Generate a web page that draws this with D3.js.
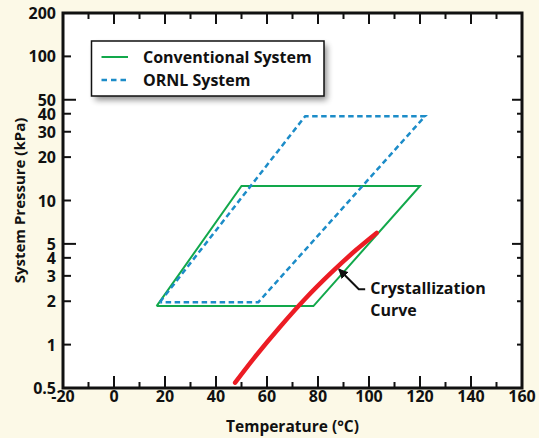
<!DOCTYPE html>
<html><head><meta charset="utf-8">
<script src="https://cdn.jsdelivr.net/npm/d3@7"></script>
<style>
body{margin:0;background:#fcf9e7;}
svg{display:block;}
text{font-family:"Open Sans",sans-serif;font-weight:700;fill:#111;}
</style></head>
<body>
<svg id="c" width="539" height="438"></svg>
<script>
// Data
const xTicks = [-20,0,20,40,60,80,100,120,140,160];
const xMinor = [-10,10,30,50,70,90,110,130,150];
const yTickLabels = [200,100,50,40,30,20,10,5,4,3,2,1,0.5];
const yLongTicks = [50,5];
const convTemp = [16.7,50,120,78.2,16.7];
const convPress = [1.85,12.6,12.6,1.85,1.85];
const ornlTemp = [18,75,122,56.6,18];
const ornlPress = [1.97,38.5,38.5,1.97,1.97];
const crystTemp = [47.5,55,65,75,85,95,103];
const crystPress = [0.545,0.81,1.32,2.08,3.13,4.55,5.96];

const svg = d3.select("#c");
const L=63,R=522,T=13,B=388;
const x = d3.scaleLinear().domain([-20,160]).range([L,R]);
const y = d3.scaleLog().domain([0.5,200]).range([B,T]);

svg.append("rect").attr("x",L).attr("y",T).attr("width",R-L).attr("height",B-T).attr("fill","#fff");

const defs = svg.append("defs");
const f = defs.append("filter").attr("id","sh").attr("x","-20%").attr("y","-30%").attr("width","150%").attr("height","180%");
f.append("feGaussianBlur").attr("stdDeviation",3);

const line = d3.line().x(d=>x(d[0])).y(d=>y(d[1]));

// series
svg.append("path").datum(convTemp.map((t,i)=>[t,convPress[i]]))
  .attr("d",line).attr("fill","none").attr("stroke","#12a84b").attr("stroke-width",2).attr("stroke-linejoin","miter");
svg.append("path").datum(ornlTemp.map((t,i)=>[t,ornlPress[i]]))
  .attr("d",line).attr("fill","none").attr("stroke","#1c8cc8").attr("stroke-width",2.5).attr("stroke-dasharray","5.5,3.5");
svg.append("path").datum(crystTemp.map((t,i)=>[t,crystPress[i]]))
  .attr("d",d3.line().x(d=>x(d[0])).y(d=>y(d[1])).curve(d3.curveCatmullRom))
  .attr("fill","none").attr("stroke","#ec1c24").attr("stroke-width",4.5).attr("stroke-linecap","round");

// arrow annotation
defs.append("marker").attr("id","ah").attr("viewBox","0 0 10 10").attr("refX",9).attr("refY",5)
  .attr("markerWidth",5).attr("markerHeight",5).attr("orient","auto")
  .append("path").attr("d","M0,0L10,5L0,10z").attr("fill","#111");
svg.append("path").attr("d",`M${x(98.5)},${y(2.42)}L${x(96)},${y(2.42)}L${x(88.2)},${y(3.33)}`)
  .attr("fill","none").attr("stroke","#111").attr("stroke-width",2).attr("marker-end","url(#ah)");
svg.append("text").attr("x",x(100.5)).attr("y",y(2.42)+5).attr("font-size",16).text("Crystallization");
svg.append("text").attr("x",x(100.5)).attr("y",y(2.42)+27).attr("font-size",16).text("Curve");

// frame
svg.append("rect").attr("x",L).attr("y",T).attr("width",R-L).attr("height",B-T).attr("fill","none").attr("stroke","#111").attr("stroke-width",3);

// ticks
const g = svg.append("g").attr("stroke","#111").attr("stroke-width",2);
xTicks.forEach(v=>{
  g.append("line").attr("x1",x(v)).attr("x2",x(v)).attr("y1",B).attr("y2",B-12);
  g.append("line").attr("x1",x(v)).attr("x2",x(v)).attr("y1",T).attr("y2",T+11);
});
xMinor.forEach(v=>{
  g.append("line").attr("x1",x(v)).attr("x2",x(v)).attr("y1",B).attr("y2",B-6);
  g.append("line").attr("x1",x(v)).attr("x2",x(v)).attr("y1",T).attr("y2",T+6);
});
yTickLabels.forEach(v=>{
  const long = yLongTicks.includes(v);
  g.append("line").attr("x1",L).attr("x2",L+(long?13:8)).attr("y1",y(v)).attr("y2",y(v));
  g.append("line").attr("x1",R).attr("x2",R-(long?10:5)).attr("y1",y(v)).attr("y2",y(v));
});

// tick labels
svg.append("g").selectAll("text").data(xTicks).join("text")
  .attr("x",d=>x(d)).attr("y",402).attr("text-anchor","middle").attr("font-size",16).text(d=>d);
svg.append("g").selectAll("text").data(yTickLabels).join("text")
  .attr("x",56).attr("y",d=>y(d)+6).attr("text-anchor","end").attr("font-size",16).text(d=>d);

// axis titles
svg.append("text").attr("x",(L+R)/2).attr("y",432).attr("text-anchor","middle").attr("font-size",15.5).text("Temperature (°C)");
svg.append("text").attr("transform",`translate(25,${(T+B)/2}) rotate(-90)`).attr("text-anchor","middle").attr("font-size",15).text("System Pressure (kPa)");

// legend
const lg = svg.append("g");
lg.append("rect").attr("x",95).attr("y",45).attr("width",232).attr("height",55).attr("fill","#000").attr("opacity",0.45).attr("filter","url(#sh)");
lg.append("rect").attr("x",91.5).attr("y",41).attr("width",232.5).attr("height",55).attr("fill","#fff").attr("stroke","#111").attr("stroke-width",1.5);
lg.append("line").attr("x1",101.5).attr("x2",128).attr("y1",57).attr("y2",57).attr("stroke","#12a84b").attr("stroke-width",2);
lg.append("line").attr("x1",101.5).attr("x2",128).attr("y1",80).attr("y2",80).attr("stroke","#1c8cc8").attr("stroke-width",2.5).attr("stroke-dasharray","5.5,4");
lg.append("text").attr("x",143).attr("y",63).attr("font-size",16).text("Conventional System");
lg.append("text").attr("x",143).attr("y",86).attr("font-size",16).text("ORNL System");
</script>
</body></html>
